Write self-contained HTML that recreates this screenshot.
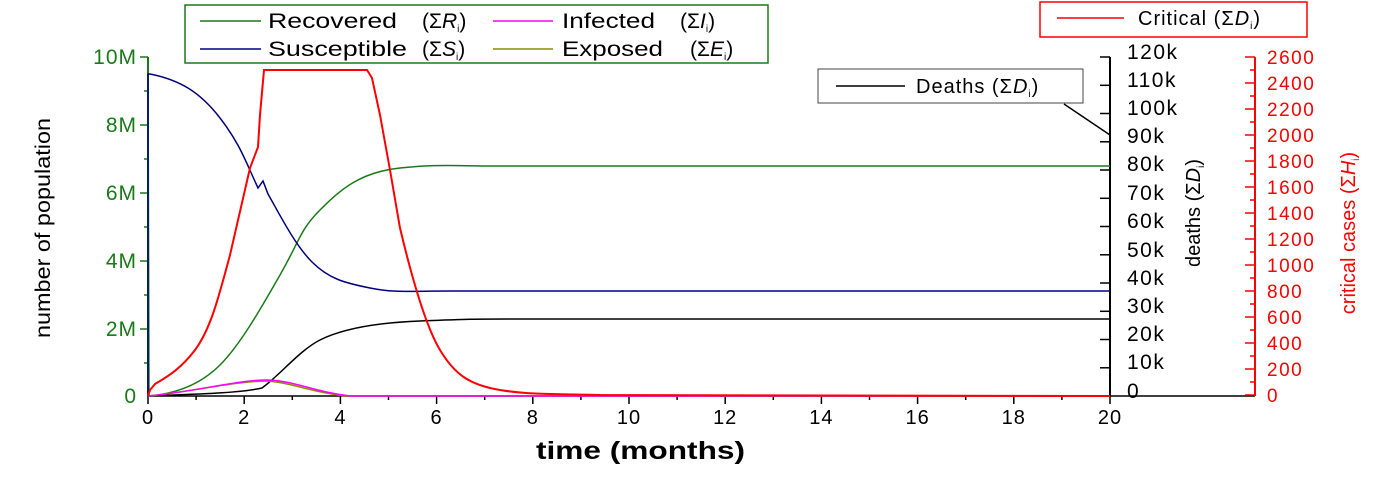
<!DOCTYPE html><html><head><style>body{margin:0;background:#fff}svg{font-family:"Liberation Sans",sans-serif}</style></head><body>
<svg width="1386" height="473" viewBox="0 0 1386 473">
<g stroke="#000" stroke-width="2" fill="none">
<line x1="148" y1="57" x2="148" y2="396" stroke="#1a7a1a"/>
<line x1="148" y1="396" x2="1255" y2="396" stroke-width="1.5"/>
<line x1="1110" y1="57" x2="1110" y2="396"/>
<line x1="1255" y1="57" x2="1255" y2="396" stroke="#f00"/>
</g>
<g stroke="#1a7a1a" stroke-width="1.5">
<line x1="140" y1="57" x2="148" y2="57"/><line x1="140" y1="125" x2="148" y2="125"/><line x1="140" y1="193" x2="148" y2="193"/><line x1="140" y1="261" x2="148" y2="261"/><line x1="140" y1="329" x2="148" y2="329"/>
<line x1="144" y1="91" x2="148" y2="91"/><line x1="144" y1="159" x2="148" y2="159"/><line x1="144" y1="227" x2="148" y2="227"/><line x1="144" y1="295" x2="148" y2="295"/><line x1="144" y1="363" x2="148" y2="363"/>
</g>
<g fill="#1a7a1a" font-size="21" text-anchor="end" letter-spacing="1">
<text x="137" y="64">10M</text><text x="137" y="132">8M</text><text x="137" y="200">6M</text><text x="137" y="268">4M</text><text x="137" y="336">2M</text><text x="137" y="403">0</text>
</g>
<g stroke="#000" stroke-width="1.5">
<line x1="148" y1="396" x2="148" y2="404"/><line x1="244.2" y1="396" x2="244.2" y2="404"/><line x1="340.4" y1="396" x2="340.4" y2="404"/><line x1="436.6" y1="396" x2="436.6" y2="404"/><line x1="532.8" y1="396" x2="532.8" y2="404"/><line x1="629" y1="396" x2="629" y2="404"/><line x1="725.2" y1="396" x2="725.2" y2="404"/><line x1="821.4" y1="396" x2="821.4" y2="404"/><line x1="917.6" y1="396" x2="917.6" y2="404"/><line x1="1013.8" y1="396" x2="1013.8" y2="404"/><line x1="1110" y1="396" x2="1110" y2="404"/>
<line x1="196.1" y1="396" x2="196.1" y2="400"/><line x1="292.3" y1="396" x2="292.3" y2="400"/><line x1="388.5" y1="396" x2="388.5" y2="400"/><line x1="484.7" y1="396" x2="484.7" y2="400"/><line x1="580.9" y1="396" x2="580.9" y2="400"/><line x1="677.1" y1="396" x2="677.1" y2="400"/><line x1="773.3" y1="396" x2="773.3" y2="400"/><line x1="869.5" y1="396" x2="869.5" y2="400"/><line x1="965.7" y1="396" x2="965.7" y2="400"/><line x1="1061.9" y1="396" x2="1061.9" y2="400"/>
</g>
<g font-size="20" text-anchor="middle" fill="#000" letter-spacing="1">
<text x="148" y="424">0</text><text x="244.2" y="424">2</text><text x="340.4" y="424">4</text><text x="436.6" y="424">6</text><text x="532.8" y="424">8</text><text x="629" y="424">10</text><text x="725.2" y="424">12</text><text x="821.4" y="424">14</text><text x="917.6" y="424">16</text><text x="1013.8" y="424">18</text><text x="1110" y="424">20</text>
</g>
<text x="536" y="459" font-size="25" font-weight="bold" textLength="209" lengthAdjust="spacingAndGlyphs">time (months)</text>
<text transform="translate(50,228) rotate(-90)" font-size="21" text-anchor="middle" textLength="220" lengthAdjust="spacingAndGlyphs">number of population</text>
<g stroke="#000" stroke-width="1.5">
<line x1="1100" y1="57" x2="1110" y2="57"/><line x1="1100" y1="85.3" x2="1110" y2="85.3"/><line x1="1100" y1="113.5" x2="1110" y2="113.5"/><line x1="1100" y1="141.8" x2="1110" y2="141.8"/><line x1="1100" y1="170" x2="1110" y2="170"/><line x1="1100" y1="198.3" x2="1110" y2="198.3"/><line x1="1100" y1="226.5" x2="1110" y2="226.5"/><line x1="1100" y1="254.8" x2="1110" y2="254.8"/><line x1="1100" y1="283" x2="1110" y2="283"/><line x1="1100" y1="311.3" x2="1110" y2="311.3"/><line x1="1100" y1="339.5" x2="1110" y2="339.5"/><line x1="1100" y1="367.8" x2="1110" y2="367.8"/>
</g>
<g font-size="21" fill="#000" letter-spacing="1.5">
<text x="1127" y="59">120k</text><text x="1127" y="87">110k</text><text x="1127" y="115">100k</text><text x="1127" y="143">90k</text><text x="1127" y="171">80k</text><text x="1127" y="200">70k</text><text x="1127" y="228">60k</text><text x="1127" y="257">50k</text><text x="1127" y="285">40k</text><text x="1127" y="313">30k</text><text x="1127" y="341">20k</text><text x="1127" y="369">10k</text><text x="1127" y="398">0</text>
</g>
<text transform="translate(1200,213) rotate(-90)" font-size="20" text-anchor="middle">deaths (Σ<tspan font-style="italic">D</tspan><tspan font-size="10" dy="4">i</tspan><tspan dy="-4">)</tspan></text>
<g stroke="#f00" stroke-width="1.5">
<line x1="1245" y1="57" x2="1255" y2="57"/><line x1="1245" y1="83" x2="1255" y2="83"/><line x1="1245" y1="109" x2="1255" y2="109"/><line x1="1245" y1="135" x2="1255" y2="135"/><line x1="1245" y1="161" x2="1255" y2="161"/><line x1="1245" y1="187" x2="1255" y2="187"/><line x1="1245" y1="213" x2="1255" y2="213"/><line x1="1245" y1="239" x2="1255" y2="239"/><line x1="1245" y1="265" x2="1255" y2="265"/><line x1="1245" y1="291" x2="1255" y2="291"/><line x1="1245" y1="317" x2="1255" y2="317"/><line x1="1245" y1="343" x2="1255" y2="343"/><line x1="1245" y1="369" x2="1255" y2="369"/><line x1="1245" y1="395" x2="1255" y2="395"/>
<line x1="1250" y1="70" x2="1255" y2="70"/><line x1="1250" y1="96" x2="1255" y2="96"/><line x1="1250" y1="122" x2="1255" y2="122"/><line x1="1250" y1="148" x2="1255" y2="148"/><line x1="1250" y1="174" x2="1255" y2="174"/><line x1="1250" y1="200" x2="1255" y2="200"/><line x1="1250" y1="226" x2="1255" y2="226"/><line x1="1250" y1="252" x2="1255" y2="252"/><line x1="1250" y1="278" x2="1255" y2="278"/><line x1="1250" y1="304" x2="1255" y2="304"/><line x1="1250" y1="330" x2="1255" y2="330"/><line x1="1250" y1="356" x2="1255" y2="356"/><line x1="1250" y1="382" x2="1255" y2="382"/>
</g>
<g font-size="19" fill="#f00" letter-spacing="1.5">
<text x="1267" y="64">2600</text><text x="1267" y="90">2400</text><text x="1267" y="116">2200</text><text x="1267" y="142">2000</text><text x="1267" y="168">1800</text><text x="1267" y="194">1600</text><text x="1267" y="220">1400</text><text x="1267" y="246">1200</text><text x="1267" y="272">1000</text><text x="1267" y="298">800</text><text x="1267" y="324">600</text><text x="1267" y="350">400</text><text x="1267" y="376">200</text><text x="1267" y="402">0</text>
</g>
<text transform="translate(1355,233) rotate(-90)" font-size="20" fill="#f00" text-anchor="middle">critical cases (Σ<tspan font-style="italic">H</tspan><tspan font-size="10" dy="4">i</tspan><tspan dy="-4">)</tspan></text>
<g fill="none" stroke-width="1.5">
<path stroke="#1a7a1a" d="M148 396 L148 57 L149 396 M148 396 C175 394 200 385 220 365 S260 310 280 275 S300 230 320 210 S360 172 400 168 S450 166 500 166 L1110 166"/>
<path stroke="#000080" d="M148 396 L148 74 L150 74 C180 80 200 92 220 118 S245 160 258 188 L263 181 L268 194 C280 215 295 245 312 262 S345 283 370 288 S410 291 450 291 L1110 291"/>
<path stroke="#000" d="M148 396 C200 394 240 393 262 388 C280 375 300 350 320 340 S370 323 420 321 S470 319 520 319 L1110 319"/>
<path stroke="#8b8b00" d="M148 396 C190 392 230 382 265 381 C290 382 310 392 345 396 L1110 396"/>
<path stroke="#f0f" d="M148 396 C195 392 235 380 268 380 C295 381 315 392 350 396 L1110 396"/>
<path stroke="#f00" stroke-width="2" d="M148 396 L150 390 L155 384 C165 378 180 370 195 350 S218 300 230 255 L250 168 L258 147 L260 115 L264 70 L367 70 L372 78 L380 115 L390 170 L400 228 C410 270 425 325 440 350 S470 385 500 390 S560 394 600 395 L1110 396"/>
</g>
<rect x="185" y="5" width="583" height="58" fill="#fff" stroke="#1a7a1a" stroke-width="1.5"/>
<g font-size="21" fill="#000">
<line x1="200" y1="21" x2="261" y2="21" stroke="#1a7a1a" stroke-width="1.5"/>
<text x="268" y="28" textLength="129" lengthAdjust="spacingAndGlyphs">Recovered</text><text x="422" y="28">(Σ<tspan font-style="italic">R</tspan><tspan font-size="10" dy="4">i</tspan><tspan dy="-4">)</tspan></text>
<line x1="200" y1="49" x2="261" y2="49" stroke="#000080" stroke-width="1.5"/>
<text x="268" y="56" textLength="139" lengthAdjust="spacingAndGlyphs">Susceptible</text><text x="422" y="56">(Σ<tspan font-style="italic">S</tspan><tspan font-size="10" dy="4">i</tspan><tspan dy="-4">)</tspan></text>
<line x1="493" y1="21" x2="553" y2="21" stroke="#f0f" stroke-width="1.5"/>
<text x="562" y="28" textLength="93" lengthAdjust="spacingAndGlyphs">Infected</text><text x="680" y="28">(Σ<tspan font-style="italic">I</tspan><tspan font-size="10" dy="4">i</tspan><tspan dy="-4">)</tspan></text>
<line x1="493" y1="49" x2="553" y2="49" stroke="#8b8b00" stroke-width="1.5"/>
<text x="562" y="56" textLength="101" lengthAdjust="spacingAndGlyphs">Exposed</text><text x="690" y="56">(Σ<tspan font-style="italic">E</tspan><tspan font-size="10" dy="4">i</tspan><tspan dy="-4">)</tspan></text>
</g>
<rect x="1040" y="2" width="267" height="35" fill="#fff" stroke="#f00" stroke-width="1.5"/>
<line x1="1057" y1="18" x2="1124" y2="18" stroke="#f00" stroke-width="1.5"/>
<text x="1138" y="25" font-size="20" letter-spacing="1">Critical (Σ<tspan font-style="italic">D</tspan><tspan font-size="10" dy="4">i</tspan><tspan dy="-4">)</tspan></text>
<rect x="818" y="69" width="265" height="34" fill="#fff" stroke="#444" stroke-width="1"/>
<line x1="836" y1="86" x2="905" y2="86" stroke="#000" stroke-width="1.5"/>
<text x="916" y="93" font-size="20" letter-spacing="1">Deaths (Σ<tspan font-style="italic">D</tspan><tspan font-size="10" dy="4">i</tspan><tspan dy="-4">)</tspan></text>
<line x1="1064" y1="104" x2="1110" y2="135" stroke="#000" stroke-width="1.5"/>
</svg></body></html>
